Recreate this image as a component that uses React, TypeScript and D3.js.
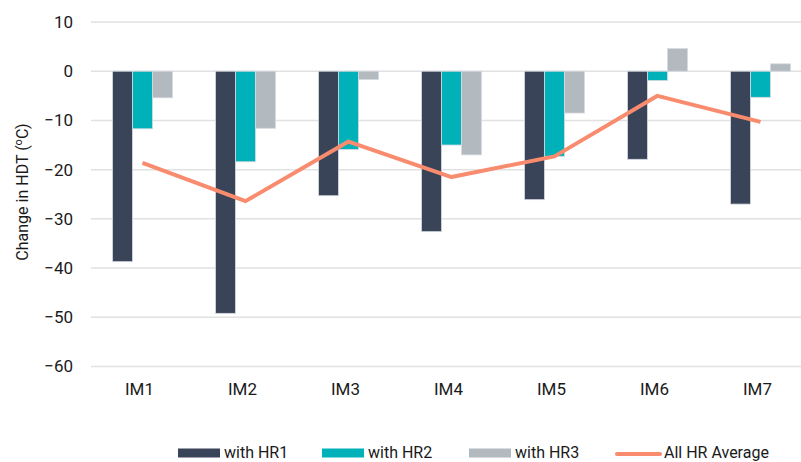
import React, { useEffect, useRef } from "react";
import * as d3 from "d3";

const categories = ["IM1", "IM2", "IM3", "IM4", "IM5", "IM6", "IM7"];
const seriesNames = ["with HR1", "with HR2", "with HR3"];
const hr1 = [-38.7, -49.2, -25.3, -32.6, -26.1, -17.9, -27.0];
const hr2 = [-11.7, -18.4, -15.9, -15.0, -17.3, -1.9, -5.3];
const hr3 = [-5.4, -11.6, -1.7, -17.0, -8.5, 4.6, 1.5];
const average = [-18.6, -26.4, -14.3, -21.5, -17.3, -5.0, -10.3];
const yTicks = [10, 0, -10, -20, -30, -40, -50, -60];

const colors = ["#3a4458", "#00b1b9", "#b2b9bf"];
const lineColor = "#f98b6e";
const font = "Roboto, 'Liberation Sans', sans-serif";

export default function App() {
  const ref = useRef<SVGSVGElement>(null);

  useEffect(() => {
    const svg = d3.select(ref.current);
    svg.selectAll("*").remove();

    const x = d3.scaleBand().domain(categories).range([91, 812]);
    const inner = d3.scaleBand().domain(seriesNames).range([-30, 30]);
    const y = d3.scaleLinear().domain([-60, 10]).range([366.5, 22]);

    // gridlines
    svg.append("g")
      .selectAll("line")
      .data(yTicks)
      .join("line")
      .attr("x1", 91)
      .attr("x2", 801)
      .attr("y1", (d) => y(d))
      .attr("y2", (d) => y(d))
      .attr("stroke", "#e1e1e1")
      .attr("stroke-width", 1.5);

    // y labels
    svg.append("g")
      .selectAll("text")
      .data(yTicks)
      .join("text")
      .attr("x", 73)
      .attr("y", (d) => y(d))
      .attr("dy", "0.35em")
      .attr("text-anchor", "end")
      .attr("font-family", font)
      .attr("font-size", 17)
      .attr("fill", "#1a1a1a")
      .text((d) => (d < 0 ? "\u2212" + Math.abs(d) : String(d)));

    // y title
    const title = svg.append("text")
      .attr("transform", "translate(28,192) rotate(-90)")
      .attr("text-anchor", "middle")
      .attr("font-family", font)
      .attr("font-size", 16)
      .attr("fill", "#1a1a1a");
    title.append("tspan").text("Change in HDT (");
    title.append("tspan").attr("font-size", 11).attr("dy", -6).text("o");
    title.append("tspan").attr("dy", 6).text("C)");

    // bars
    const series = [hr1, hr2, hr3];
    series.forEach((vals, si) => {
      svg.append("g")
        .selectAll("rect")
        .data(vals)
        .join("rect")
        .attr("x", (_, i) => x(categories[i])! + x.bandwidth() / 2 + inner(seriesNames[si])!)
        .attr("width", inner.bandwidth())
        .attr("y", (d) => y(Math.max(0, d)))
        .attr("height", (d) => Math.abs(y(d) - y(0)))
        .attr("fill", colors[si])
        .attr("stroke", "#d6dae0")
        .attr("stroke-width", 0.8);
    });

    // average line
    const line = d3.line<number>()
      .x((_, i) => x(categories[i])! + x.bandwidth() / 2)
      .y((d) => y(d));
    svg.append("path")
      .datum(average)
      .attr("d", line)
      .attr("fill", "none")
      .attr("stroke", lineColor)
      .attr("stroke-width", 4)
      .attr("stroke-linejoin", "round");

    // x labels
    svg.append("g")
      .selectAll("text")
      .data(categories)
      .join("text")
      .attr("x", (d) => x(d)! + x.bandwidth() / 2 - 3)
      .attr("y", 395)
      .attr("text-anchor", "middle")
      .attr("font-family", font)
      .attr("font-size", 17)
      .attr("fill", "#1a1a1a")
      .text((d) => d);

    // legend
    const legend = svg.append("g").attr("font-family", font).attr("font-size", 16).attr("fill", "#1a1a1a");
    const swatchX = [178, 322, 469];
    seriesNames.forEach((name, i) => {
      legend.append("rect")
        .attr("x", swatchX[i])
        .attr("y", 448.5)
        .attr("width", 42)
        .attr("height", 9)
        .attr("fill", colors[i]);
      legend.append("text")
        .attr("x", swatchX[i] + 46)
        .attr("y", 458)
        .text(name);
    });
    legend.append("line")
      .attr("x1", 617)
      .attr("x2", 660)
      .attr("y1", 454)
      .attr("y2", 454)
      .attr("stroke", lineColor)
      .attr("stroke-width", 4)
      .attr("stroke-linecap", "round");
    legend.append("text")
      .attr("x", 664)
      .attr("y", 458)
      .text("All HR Average");
  }, []);

  return (
    <svg ref={ref} width={801} height={462} style={{ position: "absolute", left: 0, top: 0, background: "#fff" }} />
  );
}
